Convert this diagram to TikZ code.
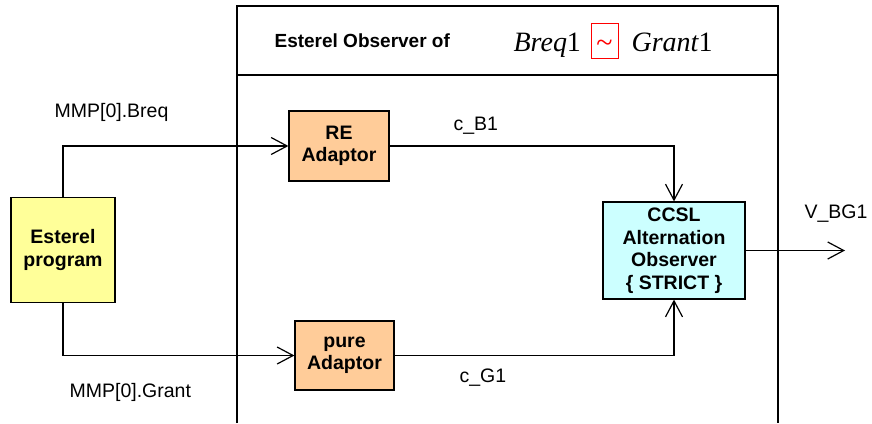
\documentclass[tikz,border=0pt]{standalone}
\usepackage{fontspec}
\setmainfont{Liberation Sans}
\newfontfamily\timesf{Liberation Serif}
\usetikzlibrary{arrows.meta}
\definecolor{yel}{HTML}{FFFF99}
\definecolor{peach}{HTML}{FFCC99}
\definecolor{cyn}{HTML}{CCFFFF}
\begin{document}
\begin{tikzpicture}[x=1pt,y=-1pt,line width=1.2pt,
  box/.style={draw,line width=1.2pt,align=center,inner sep=0pt,
    font=\fontsize{19.5}{22.5}\selectfont\bfseries},
  lbl/.style={inner sep=0pt,font=\fontsize{19.5}{22}\selectfont},
  mth/.style={inner sep=0pt,font=\fontsize{28}{30}\selectfont\timesf},
  arr/.style={-{Straight Barb[length=16pt,width=17pt,line width=1.2pt]}}]
\useasboundingbox (0,0) rectangle (872,423);
% observer frame
\coordinate (fbl) at (237,423);
\coordinate (ftl) at (237,6);
\coordinate (ftr) at (778,6);
\coordinate (fbr) at (778,423);
\coordinate (dl) at (237,75);
\coordinate (dr) at (778,75);
\draw (fbl) -- (ftl) -- (ftr) -- (fbr);
\draw (dl) -- (dr);
% title
\node[lbl,anchor=base west,font=\fontsize{19}{22}\selectfont\bfseries] (title) at (274,47) {Esterel Observer of};
\node[mth,anchor=base west] (breq) at (513,51) {\itshape Breq\upshape 1};
\node[draw=red,line width=0.8pt,minimum width=27,minimum height=35,inner sep=0pt] (tilde) at (604.5,40.5) {};
\node[inner sep=0pt,text=red,font=\fontsize{30}{30}\selectfont\timesf] (tildetext) at (604.5,46.5) {\char126};
\node[mth,anchor=base west] (grant) at (631,51) {\itshape Grant\upshape 1};
% blocks
\node[box,fill=yel,minimum width=104,minimum height=105] (esterel) at (63,250) {Esterel\\program};
\node[box,fill=peach,minimum width=100,minimum height=70] (re) at (339,146) {RE\\Adaptor};
\node[box,fill=peach,minimum width=99,minimum height=69] (pure) at (344.5,355.5) {pure\\Adaptor};
\node[box,fill=cyn,minimum width=142,minimum height=97] (ccsl) at (674,250.5) {CCSL\\Alternation\\Observer\\\{ STRICT \}};
\coordinate (out) at (845,250.5);
% connectors
\draw[arr] (esterel.north) |- (re.west);
\draw[arr] (esterel.south) |- (pure.west);
\draw[arr] (re.east) -| (ccsl.north);
\draw[arr] (pure.east) -| (ccsl.south);
\draw[arr] (ccsl.east) -- (out);
% labels
\node[lbl,anchor=base west] (lbreq) at (54,117) {MMP[0].Breq};
\node[lbl,anchor=base west] (lgrant) at (69,397) {MMP[0].Grant};
\node[lbl,anchor=base west] (lcb) at (453,130) {c\_B1};
\node[lbl,anchor=base west] (lcg) at (459,382) {c\_G1};
\node[lbl,anchor=base west] (lv) at (804,218) {V\_BG1};
\end{tikzpicture}
\end{document}
